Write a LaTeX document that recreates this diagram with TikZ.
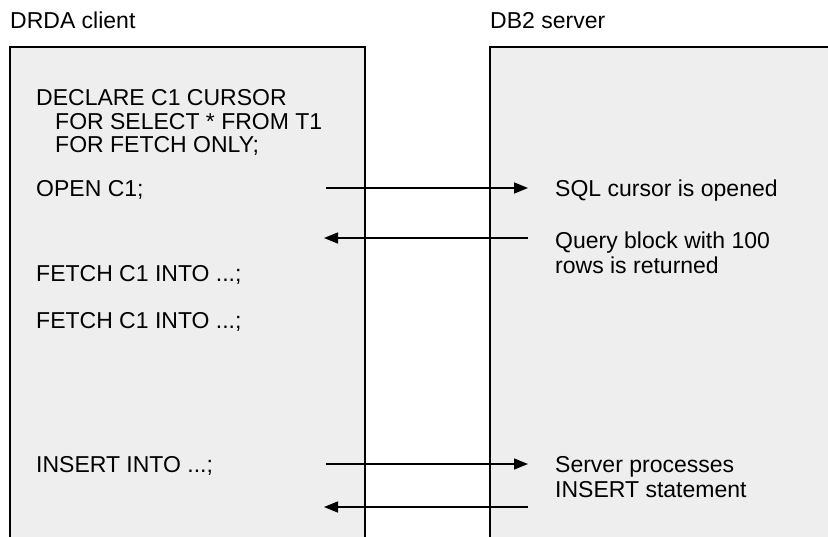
\documentclass[tikz,border=0pt]{standalone}
\usepackage{fontspec}
\setmainfont{Liberation Sans}
\usetikzlibrary{arrows.meta}
\begin{document}
\begin{tikzpicture}[x=1pt,y=-1pt,
  lbl/.style={anchor=base west,inner sep=0pt,font=\fontsize{23}{26}\selectfont},
  arr/.style={line width=1.5pt,-{Triangle[length=14pt,width=11pt]}}]
\definecolor{boxgray}{HTML}{EEEEEE}
\useasboundingbox (0,0) rectangle (828,536);
\clip (0,0) rectangle (828,536);
% boxes
\path[fill=boxgray] (10,47) rectangle (365,560);
\draw[line width=1.3pt] (10,560) -- (10,47) -- (365,47) -- (365,560);
\path[fill=boxgray] (490,47) rectangle (840,560);
\draw[line width=1.3pt] (490,560) -- (490,47) -- (840,47);
% titles
\node[lbl] (tc) at (10,28) {DRDA client};
\node[lbl] (ts) at (490,28) {DB2 server};
% client text
\node[lbl] (c1) at (36,105) {DECLARE C1 CURSOR};
\node[lbl] (c2) at (55,129) {FOR SELECT * FROM T1};
\node[lbl] (c3) at (55,152) {FOR FETCH ONLY;};
\node[lbl] (c4) at (36,196) {OPEN C1;};
\node[lbl] (c5) at (36,281) {FETCH C1 INTO ...;};
\node[lbl] (c6) at (36,328) {FETCH C1 INTO ...;};
\node[lbl] (c7) at (36,472) {INSERT INTO ...;};
% server text
\node[lbl] (s1) at (555,196) {SQL cursor is opened};
\node[lbl] (s2) at (555,248) {Query block with 100};
\node[lbl] (s3) at (555,273) {rows is returned};
\node[lbl] (s4) at (555,472) {Server processes};
\node[lbl] (s5) at (555,497) {INSERT statement};
% arrow endpoints
\coordinate (a1l) at (326,188);
\coordinate (a1r) at (528,188);
\coordinate (a2l) at (324,238);
\coordinate (a2r) at (528,238);
\coordinate (a3l) at (326,464);
\coordinate (a3r) at (528,464);
\coordinate (a4l) at (324,507);
\coordinate (a4r) at (528,507);
\draw[arr] (a1l) -- (a1r);
\draw[arr] (a2r) -- (a2l);
\draw[arr] (a3l) -- (a3r);
\draw[arr] (a4r) -- (a4l);
\end{tikzpicture}
\end{document}
